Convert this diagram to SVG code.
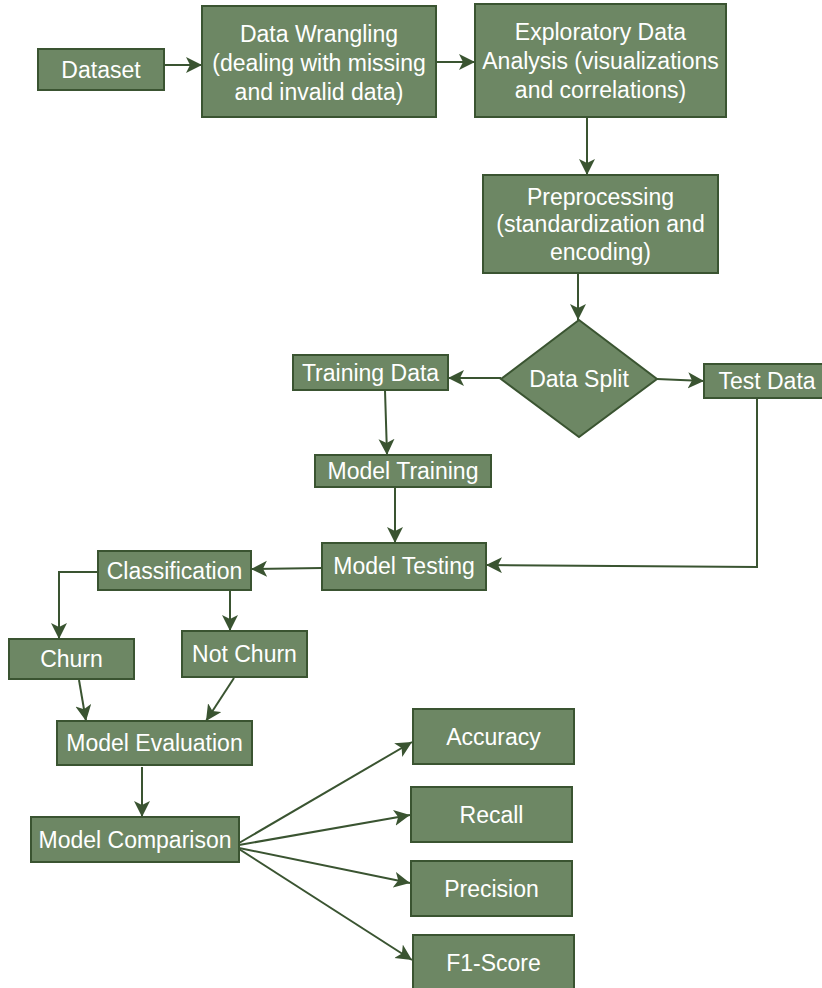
<svg xmlns="http://www.w3.org/2000/svg" width="822" height="988" viewBox="0 0 822 988">
<style>
  .box { fill: #6d8764; stroke: #3a5431; stroke-width: 2; }
  .t { font-family: "Liberation Sans", Arial, sans-serif; font-size: 23px; fill: #ffffff; text-anchor: middle; }
  .c { fill: none; stroke: #3a5431; stroke-width: 2; marker-end: url(#arr); }
</style>
<defs>
  <marker id="arr" markerUnits="userSpaceOnUse" markerWidth="17" markerHeight="17" refX="16" refY="8" orient="auto" viewBox="0 0 17 17">
    <path d="M0,0 L16,8 L0,16 L4,8 z" fill="#3a5431"/>
  </marker>
</defs>
<rect width="822" height="988" fill="#ffffff"/>

<g id="connectors">
  <path class="c" d="M164,65 L202,65"/>
  <path class="c" d="M436,62 L475,62"/>
  <path class="c" d="M587,117 L587,175"/>
  <path class="c" d="M578,273 L578,320"/>
  <path class="c" d="M501,378 L448,378"/>
  <path class="c" d="M657,379 L704,381"/>
  <path class="c" d="M385,390 L387,455"/>
  <path class="c" d="M395,487 L395,543"/>
  <path class="c" d="M757,398 L757,567 L486,565"/>
  <path class="c" d="M322,568 L251,569"/>
  <path class="c" d="M98,572 L59,572 L59,639"/>
  <path class="c" d="M230,590 L230,631"/>
  <path class="c" d="M79,680 L86,721"/>
  <path class="c" d="M234,678 L206,721"/>
  <path class="c" d="M142,767 L142,817"/>
  <path class="c" d="M239,843 L412,742"/>
  <path class="c" d="M239,845 L410,815"/>
  <path class="c" d="M239,848 L410,883"/>
  <path class="c" d="M239,849 L412,960"/>
</g>

<g id="dataset">
  <rect class="box" x="38" y="49" width="126" height="41"/>
  <text class="t" x="101" y="77.5">Dataset</text>
</g>
<g id="data-wrangling">
  <rect class="box" x="202" y="6" width="234" height="111"/>
  <text class="t" x="319" y="42">Data Wrangling</text>
  <text class="t" x="319" y="71">(dealing with missing</text>
  <text class="t" x="319" y="100">and invalid data)</text>
</g>
<g id="eda">
  <rect class="box" x="475" y="4" width="251" height="113"/>
  <text class="t" x="600.5" y="40">Exploratory Data</text>
  <text class="t" x="600.5" y="69">Analysis (visualizations</text>
  <text class="t" x="600.5" y="98">and correlations)</text>
</g>
<g id="preprocessing">
  <rect class="box" x="483" y="175" width="235" height="98"/>
  <text class="t" x="600.5" y="205">Preprocessing</text>
  <text class="t" x="600.5" y="232">(standardization and</text>
  <text class="t" x="600.5" y="260">encoding)</text>
</g>
<g id="data-split">
  <polygon class="box" points="579,320 657,379 579,437 501,379"/>
  <text class="t" x="579" y="387">Data Split</text>
</g>
<g id="training-data">
  <rect class="box" x="293" y="355" width="155" height="35"/>
  <text class="t" x="370.5" y="380.5">Training Data</text>
</g>
<g id="test-data">
  <rect class="box" x="704" y="364" width="126" height="34"/>
  <text class="t" x="767" y="389">Test Data</text>
</g>
<g id="model-training">
  <rect class="box" x="315" y="455" width="176" height="32"/>
  <text class="t" x="403" y="479">Model Training</text>
</g>
<g id="model-testing">
  <rect class="box" x="322" y="543" width="164" height="47"/>
  <text class="t" x="404" y="574">Model Testing</text>
</g>
<g id="classification">
  <rect class="box" x="98" y="551" width="153" height="39"/>
  <text class="t" x="174.5" y="578.5">Classification</text>
</g>
<g id="churn">
  <rect class="box" x="9" y="639" width="125" height="40"/>
  <text class="t" x="71.5" y="667">Churn</text>
</g>
<g id="not-churn">
  <rect class="box" x="182" y="631" width="125" height="46"/>
  <text class="t" x="244.5" y="662">Not Churn</text>
</g>
<g id="model-evaluation">
  <rect class="box" x="57" y="721" width="195" height="44"/>
  <text class="t" x="154.5" y="751">Model Evaluation</text>
</g>
<g id="model-comparison">
  <rect class="box" x="31" y="817" width="208" height="45"/>
  <text class="t" x="135" y="847.5">Model Comparison</text>
</g>
<g id="accuracy">
  <rect class="box" x="413" y="709" width="161" height="55"/>
  <text class="t" x="493.5" y="744.5">Accuracy</text>
</g>
<g id="recall">
  <rect class="box" x="411" y="787" width="161" height="55"/>
  <text class="t" x="491.5" y="822.5">Recall</text>
</g>
<g id="precision">
  <rect class="box" x="411" y="861" width="161" height="55"/>
  <text class="t" x="491.5" y="896.5">Precision</text>
</g>
<g id="f1-score">
  <rect class="box" x="413" y="935" width="161" height="56"/>
  <text class="t" x="493.5" y="970.5">F1-Score</text>
</g>
</svg>
